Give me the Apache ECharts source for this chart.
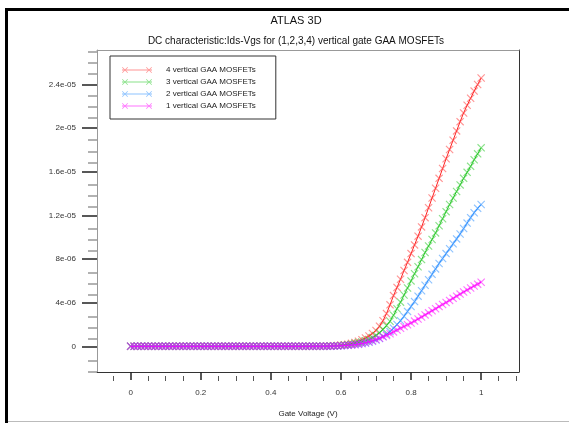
<!DOCTYPE html>
<html>
<head>
<meta charset="utf-8">
<script src="https://cdn.jsdelivr.net/npm/echarts@6/dist/echarts.min.js"></script>
<style>
  html, body { margin: 0; padding: 0; background: #fff; }
  #wrap { position: relative; width: 569px; height: 423px; overflow: hidden; }
  #frameL { position: absolute; left: 5px; top: 8px; width: 3px; height: 415px; background: #000; }
  #frameT { position: absolute; left: 5px; top: 8px; width: 564px; height: 3px; background: #000; }
  #frameB { position: absolute; left: 8px; top: 421px; width: 561px; height: 1px; background: #bbb; }
  #chart { position: absolute; left: 0; top: 0; width: 569px; height: 423px; }
</style>
</head>
<body>
<div id="wrap">
  <div id="frameL"></div><div id="frameT"></div><div id="frameB"></div>
  <div id="chart"></div>
</div>
<script>
// Gate voltage (V)
const vg = [0,0.01,0.02,0.03,0.04,0.05,0.06,0.07,0.08,0.09,
  0.1,0.11,0.12,0.13,0.14,0.15,0.16,0.17,0.18,0.19,
  0.2,0.21,0.22,0.23,0.24,0.25,0.26,0.27,0.28,0.29,
  0.3,0.31,0.32,0.33,0.34,0.35,0.36,0.37,0.38,0.39,
  0.4,0.41,0.42,0.43,0.44,0.45,0.46,0.47,0.48,0.49,
  0.5,0.51,0.52,0.53,0.54,0.55,0.56,0.57,0.58,0.59,
  0.6,0.61,0.62,0.63,0.64,0.65,0.66,0.67,0.68,0.69,
  0.7,0.71,0.72,0.73,0.74,0.75,0.76,0.77,0.78,0.79,
  0.8,0.81,0.82,0.83,0.84,0.85,0.86,0.87,0.88,0.89,
  0.9,0.91,0.92,0.93,0.94,0.95,0.96,0.97,0.98,0.99,1.0];

// Drain current, in units of 1e-6 A
const ids4 = [0,0,0,0,0,0,0,0,0,0, 0,0,0,0,0,0,0,0,0,0, 0,0,0,0,0,0,0,0,0,0,
  0,0,0,0,0,0,0,0,0,0, 0,0,0,0,0,0,0,0,0,0,
  0.003,0.004,0.006,0.008,0.011,0.016,0.022,0.03,0.045,0.07,
  0.11,0.15,0.20,0.27,0.36,0.47,0.60,0.76,0.95,1.18,
  1.45,1.85,2.35,3.0,3.8,4.65,5.4,6.15,6.95,7.7,
  8.5,9.3,10.1,10.95,11.8,12.7,13.6,14.5,15.4,16.3,
  17.2,18.05,18.9,19.75,20.6,21.4,22.1,22.75,23.4,24.0,24.6];
const ids3 = [0,0,0,0,0,0,0,0,0,0, 0,0,0,0,0,0,0,0,0,0, 0,0,0,0,0,0,0,0,0,0,
  0,0,0,0,0,0,0,0,0,0, 0,0,0,0,0,0,0,0,0,0,
  0.002,0.003,0.004,0.006,0.008,0.011,0.016,0.022,0.035,0.055,
  0.08,0.11,0.15,0.2,0.27,0.34,0.4,0.5,0.63,0.8,
  1.0,1.25,1.55,1.9,2.3,2.85,3.45,4.05,4.7,5.35,
  6.0,6.65,7.3,7.95,8.6,9.2,9.8,10.4,11.05,11.7,
  12.35,13.0,13.6,14.2,14.8,15.4,15.95,16.5,17.1,17.65,18.2];
const ids2 = [0,0,0,0,0,0,0,0,0,0, 0,0,0,0,0,0,0,0,0,0, 0,0,0,0,0,0,0,0,0,0,
  0,0,0,0,0,0,0,0,0,0, 0,0,0,0,0,0,0,0,0,0,
  0.002,0.002,0.003,0.004,0.006,0.008,0.011,0.016,0.024,0.035,
  0.05,0.07,0.09,0.12,0.16,0.2,0.25,0.31,0.38,0.47,
  0.58,0.72,0.9,1.1,1.35,1.65,2.0,2.35,2.75,3.2,
  3.65,4.1,4.6,5.1,5.6,6.1,6.6,7.1,7.6,8.05,
  8.5,8.95,9.4,9.85,10.3,10.8,11.3,11.8,12.25,12.65,13.0];
const ids1 = [0,0,0,0,0,0,0,0,0,0, 0,0,0,0,0,0,0,0,0,0, 0,0,0,0,0,0,0,0,0,0,
  0,0,0,0,0,0,0,0,0,0, 0,0,0,0,0,0,0,0,0,0,
  0.001,0.002,0.003,0.004,0.005,0.007,0.01,0.015,0.024,0.035,
  0.05,0.07,0.09,0.12,0.15,0.2,0.26,0.33,0.42,0.52,
  0.63,0.74,0.87,1.0,1.15,1.32,1.5,1.66,1.82,1.98,
  2.14,2.31,2.5,2.69,2.88,3.07,3.26,3.45,3.64,3.83,
  4.02,4.21,4.4,4.6,4.79,4.98,5.17,5.35,5.53,5.7,5.88];

const seriesNames = ['4 vertical GAA MOSFETs','3 vertical GAA MOSFETs','2 vertical GAA MOSFETs','1 vertical GAA MOSFETs'];
const seriesValues = [ids4, ids3, ids2, ids1];
const seriesColors = ['#ff2020', '#1fc41f', '#2f8fff', '#ff00ff'];
const markerColors = ['rgba(255,60,60,0.55)', 'rgba(40,200,40,0.55)', 'rgba(50,145,255,0.55)', 'rgba(255,0,255,0.55)'];

const xMajorTicks = [0, 0.2, 0.4, 0.6, 0.8, 1];
const xTickLabels = ['0', '0.2', '0.4', '0.6', '0.8', '1'];
const xMinorTicks = [-0.05, 0.05, 0.1, 0.15, 0.25, 0.3, 0.35, 0.45, 0.5, 0.55, 0.65, 0.7, 0.75, 0.85, 0.9, 0.95, 1.05, 1.1];
const yMajorTicks = [0, 4, 8, 12, 16, 20, 24];
const yTickLabels = ['0', '4e-06', '8e-06', '1.2e-05', '1.6e-05', '2e-05', '2.4e-05'];
const yMinorTicks = [-2, -1, 1, 2, 3, 5, 6, 7, 9, 10, 11, 13, 14, 15, 17, 18, 19, 21, 22, 23, 25, 26, 27];

const FONT = 'Liberation Sans, Arial, sans-serif';
const X_MIN = -0.096, X_MAX = 1.108, Y_MIN = -2.355, Y_MAX = 27.17;
const gridBox = { left: 97, top: 50, width: 422, height: 326 };

const crossIcon = 'path://M0,1L1,0L5,4L9,0L10,1L6,5L10,9L9,10L5,6L1,10L0,9L4,5Z';
const legendIcon = 'path://M0,2.6L30,2.6L30,3.4L0,3.4Z' +
  'M0,0.5L0.5,0L3,2.5L5.5,0L6,0.5L3.5,3L6,5.5L5.5,6L3,3.5L0.5,6L0,5.5L2.5,3Z' +
  'M24,0.5L24.5,0L27,2.5L29.5,0L30,0.5L27.5,3L30,5.5L29.5,6L27,3.5L24.5,6L24,5.5L26.5,3Z';

const chart = echarts.init(document.getElementById('chart'), null, { renderer: 'canvas' });

const noZero = { onZero: false };

const option = {
  animation: false,
  backgroundColor: 'transparent',
  title: {
    text: 'ATLAS 3D',
    subtext: 'DC characteristic:Ids-Vgs for (1,2,3,4) vertical gate GAA MOSFETs',
    left: 296,
    textAlign: 'center',
    top: 15,
    padding: 0,
    itemGap: 10,
    textStyle: { fontFamily: FONT, fontSize: 11, fontWeight: 'normal', color: '#111' },
    subtextStyle: { fontFamily: FONT, fontSize: 10, color: '#111' }
  },
  legend: {
    data: seriesNames,
    orient: 'vertical',
    left: 110,
    top: 56,
    padding: [9, 20, 8, 12],
    itemWidth: 30,
    itemHeight: 6,
    itemGap: 2,
    icon: legendIcon,
    borderColor: '#333',
    borderWidth: 1,
    borderRadius: 0,
    backgroundColor: '#fff',
    selectedMode: false,
    textStyle: { fontFamily: FONT, fontSize: 8, color: '#222', lineHeight: 10, padding: [0, 0, 0, 9] }
  },
  grid: [
    Object.assign({ containLabel: false }, gridBox),
    Object.assign({ containLabel: false }, gridBox)
  ],
  xAxis: [
    {
      type: 'value', gridIndex: 0, position: 'bottom', min: X_MIN, max: X_MAX,
      name: 'Gate Voltage (V)', nameLocation: 'middle', nameGap: 38,
      nameTextStyle: { fontFamily: FONT, fontSize: 8, color: '#222' },
      axisLine: Object.assign({ show: true, lineStyle: { color: '#333', width: 1 } }, noZero),
      axisTick: { show: true, length: 8, customValues: xMajorTicks, lineStyle: { color: '#222', width: 1.5 } },
      axisLabel: {
        show: true, margin: 17, customValues: xMajorTicks,
        fontFamily: FONT, fontSize: 8, color: '#333',
        formatter: v => { const i = xMajorTicks.findIndex(t => Math.abs(t - v) < 1e-9); return i >= 0 ? xTickLabels[i] : ''; }
      },
      splitLine: { show: false }
    },
    {
      type: 'value', gridIndex: 0, position: 'top', min: X_MIN, max: X_MAX,
      axisLine: Object.assign({ show: true, lineStyle: { color: '#999', width: 1 } }, noZero),
      axisTick: { show: false }, axisLabel: { show: false }, splitLine: { show: false }
    },
    {
      type: 'value', gridIndex: 1, position: 'bottom', min: X_MIN, max: X_MAX,
      axisLine: Object.assign({ show: false }, noZero),
      axisTick: { show: true, length: 5, customValues: xMinorTicks, lineStyle: { color: '#555', width: 1 } },
      axisLabel: { show: false }, splitLine: { show: false }
    }
  ],
  yAxis: [
    {
      type: 'value', gridIndex: 0, position: 'left', min: Y_MIN, max: Y_MAX,
      axisLine: Object.assign({ show: true, lineStyle: { color: '#999', width: 1 } }, noZero),
      axisTick: { show: true, length: 15, customValues: yMajorTicks, lineStyle: { color: '#222', width: 1.5 } },
      axisLabel: {
        show: true, margin: 21, customValues: yMajorTicks,
        fontFamily: FONT, fontSize: 8, color: '#333',
        formatter: v => { const i = yMajorTicks.findIndex(t => Math.abs(t - v) < 1e-9); return i >= 0 ? yTickLabels[i] : ''; }
      },
      splitLine: { show: false }
    },
    {
      type: 'value', gridIndex: 0, position: 'right', min: Y_MIN, max: Y_MAX,
      axisLine: Object.assign({ show: true, lineStyle: { color: '#333', width: 1 } }, noZero),
      axisTick: { show: false }, axisLabel: { show: false }, splitLine: { show: false }
    },
    {
      type: 'value', gridIndex: 1, position: 'left', min: Y_MIN, max: Y_MAX,
      axisLine: Object.assign({ show: false }, noZero),
      axisTick: { show: true, length: 9, customValues: yMinorTicks, lineStyle: { color: '#999', width: 1.5 } },
      axisLabel: { show: false }, splitLine: { show: false }
    }
  ],
  series: seriesNames.map((name, k) => ({
    name: name,
    type: 'line',
    xAxisIndex: 0,
    yAxisIndex: 0,
    data: vg.map((v, i) => [v, seriesValues[k][i]]),
    showSymbol: true,
    symbol: crossIcon,
    symbolSize: 8,
    lineStyle: { color: seriesColors[k], width: 1 },
    itemStyle: { color: markerColors[k] },
    emphasis: { disabled: true },
    z: 2 + k
  }))
};

chart.setOption(option);
</script>
</body>
</html>
